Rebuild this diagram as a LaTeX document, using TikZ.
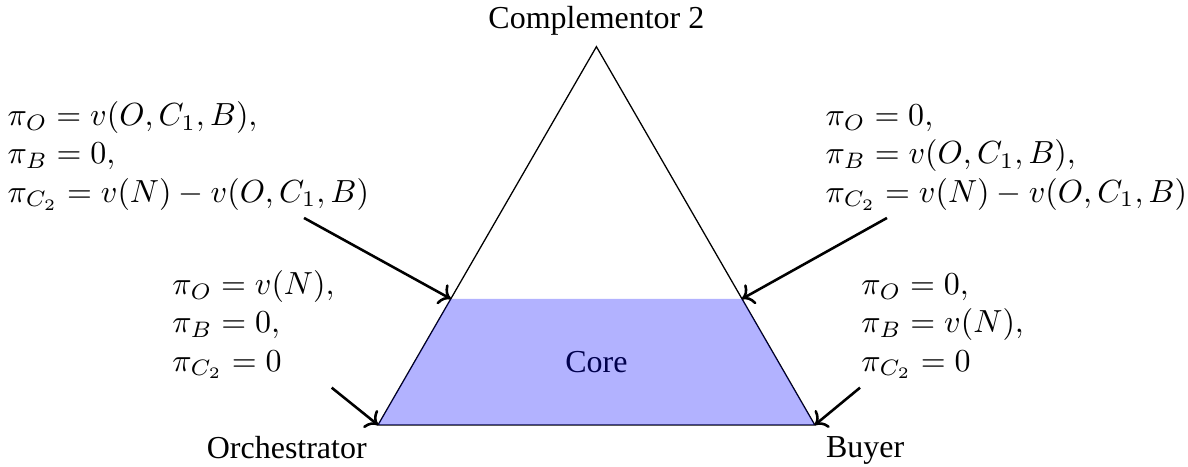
\documentclass[tikz,border=0pt]{standalone}
\usepackage{amsmath, amssymb}
\usepackage[no-math]{fontspec}
\setmainfont{Liberation Serif}
\usepackage{tikz}
\usetikzlibrary{arrows.meta, calc, positioning}

\begin{document}
\begin{tikzpicture}[
    payoff/.style={align=left, anchor=south west},
    pointer/.style={->, thick}
]
    \useasboundingbox (-4.154,-0.4615) rectangle (8.901,4.670);

    % 三角形顶点
    \coordinate (o) at (0,0);
    \coordinate (b) at (4.8,0);
    \coordinate (c) at (60:4.8);
    % 核心上边的两个角
    \coordinate (l) at ($(o)!1/3!(c)$);
    \coordinate (r) at ($(b)!1/3!(c)$);

    % 三角形
    \draw (o) -- (b) -- (c) -- cycle;
    \node (core) at (2.4,0.693) {Core};

    % 核心
    \fill[blue, opacity=0.3] (o) -- (b) -- (r) -- (l) -- cycle;

    % 顶点标签
    \node[below left] (orch) at (o) {Orchestrator};
    \node[below right] (buyer) at (b) {Buyer};
    \node[above] (comp) at (c) {Complementor 2};

    % 收益分配
    \node[payoff] (pl) at (-4.195,2.238) {$\pi_O = v(O, C_1, B),$\\ $\pi_B = 0,$\\ $\pi_{C_2} = v(N) - v(O, C_1, B)$};
    \node[payoff] (pr) at (4.795,2.238) {$\pi_O = 0,$\\ $\pi_B = v(O, C_1, B),$\\ $\pi_{C_2} = v(N) - v(O, C_1, B)$};
    \node[payoff] (po) at (-2.385,0.381) {$\pi_O = v(N),$\\ $\pi_B = 0,$\\ $\pi_{C_2} = 0$};
    \node[payoff] (pb) at (5.187,0.381) {$\pi_O = 0,$\\ $\pi_B = v(N),$\\ $\pi_{C_2} = 0$};

    % 箭头
    \coordinate (sl) at (-0.813,2.275);
    \coordinate (sr) at (5.593,2.275);
    \coordinate (so) at (-0.509,0.410);
    \coordinate (sb) at (5.297,0.410);
    \draw[pointer] (sl) -- (l);
    \draw[pointer] (sr) -- (r);
    \draw[pointer] (so) -- (o);
    \draw[pointer] (sb) -- (b);
\end{tikzpicture}
\end{document}
